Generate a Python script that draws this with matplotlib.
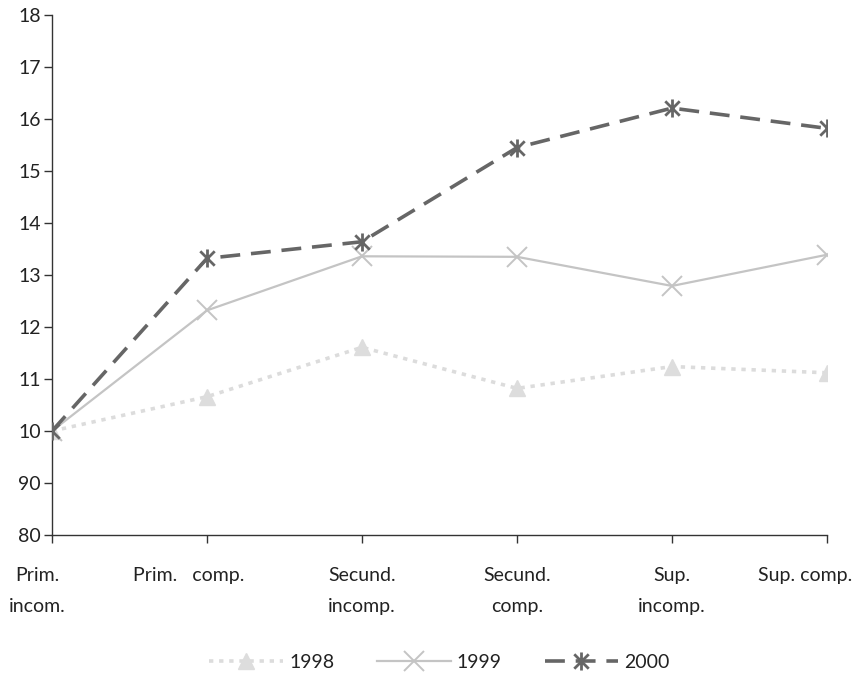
import matplotlib
matplotlib.use("Agg")
import matplotlib.pyplot as plt
import matplotlib.transforms as mtransforms
from matplotlib.path import Path
import numpy as np

# Education levels along the horizontal axis
categories = ["Prim.\nincom.", "Prim.   comp.", "Secund.\nincomp.",
              "Secund.\ncomp.", "Sup.\nincomp.", "Sup. comp."]

# Index values per year (base level = 100)
values_1998 = [100.0, 106.6, 116.1, 108.2, 112.4, 111.2]
values_1999 = [100.0, 123.2, 133.6, 133.5, 127.9, 133.9]
values_2000 = [100.0, 133.2, 136.4, 154.5, 162.1, 158.2]

# Y tick positions and the labels printed beside them
y_ticks = [80, 90, 100, 110, 120, 130, 140, 150, 160, 170, 180]
y_tick_labels = ["80", "90", "10", "11", "12", "13", "14", "15", "16", "17", "18"]

plt.rcParams["font.family"] = ["Lato", "DejaVu Sans"]

# Asterisk marker: vertical bar plus two diagonals
star_path = Path(
    [(0, -1), (0, 1), (-0.8, -0.8), (0.8, 0.8), (-0.8, 0.8), (0.8, -0.8)],
    [Path.MOVETO, Path.LINETO, Path.MOVETO, Path.LINETO, Path.MOVETO, Path.LINETO],
)

fig = plt.figure(figsize=(8.62, 6.73), dpi=100)
ax = fig.add_axes([0.0603, 0.205, 0.8991, 0.7727])

x = np.arange(len(categories))

ax.plot(x, values_1998, color="#dcdcdc", lw=2.6, ls=(0, (1.2, 1.6)),
        marker="^", markersize=12, markerfacecolor="#dddddd",
        markeredgecolor="#dddddd", label="1998", zorder=2)
ax.plot(x, values_1999, color="#c4c4c4", lw=1.6, ls="-",
        marker="x", markersize=14, markeredgewidth=1.4,
        markeredgecolor="#c4c4c4", label="1999", zorder=3)
ax.plot(x, values_2000, color="#666666", lw=2.6, ls=(0, (5.5, 3)),
        marker=star_path, markersize=13, markeredgewidth=2.0,
        markeredgecolor="#666666", markerfacecolor="none",
        label="2000", zorder=4)

ax.set_xlim(0, len(categories) - 1)
ax.set_ylim(80, 180)
ax.set_yticks(y_ticks)
ax.set_yticklabels(y_tick_labels)
ax.set_xticks(x)
ax.set_xticklabels(categories, linespacing=2.0, va="top")

for side in ("top", "right"):
    ax.spines[side].set_visible(False)
for side in ("left", "bottom"):
    ax.spines[side].set_color("#333333")
    ax.spines[side].set_linewidth(1.0)

ax.tick_params(axis="y", direction="out", length=6, width=1.0,
               color="#333333", labelsize=14, labelcolor="#222222", pad=2)
ax.tick_params(axis="x", direction="out", length=6, width=1.0,
               color="#333333", labelsize=14, labelcolor="#222222", pad=17)

# Nudge the outer category labels so they stay inside the figure
labels = ax.get_xticklabels()
shifts = {0: -15, 1: -18, 5: -22}
for i, dx in shifts.items():
    lbl = labels[i]
    lbl.set_transform(lbl.get_transform() +
                      mtransforms.ScaledTranslation(dx / 100, 0, fig.dpi_scale_trans))

ax.legend(loc="lower center", bbox_to_anchor=(0.5, -0.295), ncol=3,
          frameon=False, fontsize=14, handlelength=3.8, columnspacing=2.2,
          handletextpad=0.3, labelcolor="#222222")

fig.savefig("out.png", dpi=100)
